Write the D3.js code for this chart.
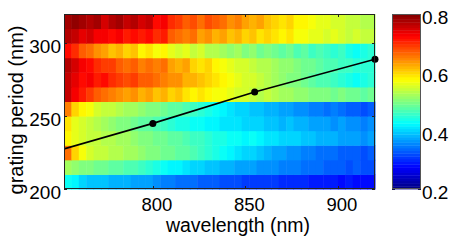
<!DOCTYPE html>
<html>
<head>
<meta charset="utf-8">
<script src="https://cdn.jsdelivr.net/npm/d3@7"></script>
<style>
    body { margin: 0; background: #fff; }
    text { font-family: "Liberation Sans", Arial, sans-serif; fill: #000; }
</style>
</head>
<body>
<div class="main"></div>
<script>
// column start wavelengths (nm), each column 4 nm wide
var wavelengths = [752, 756, 760, 764, 768, 772, 776, 780, 784, 788, 792, 796, 800, 804,
    808, 812, 816, 820, 824, 828, 832, 836, 840, 844, 848, 852, 856, 860,
    864, 868, 872, 876, 880, 884, 888, 892, 896, 900, 904, 908, 912, 916];
// row start grating periods (nm), each row 10 nm tall
var periods = [200, 210, 220, 230, 240, 250, 260, 270, 280, 290, 300, 310];

// values per row, bottom (200 nm) to top (310 nm)
var values = [
    [0.43, 0.42, 0.40, 0.39, 0.39, 0.39, 0.38, 0.38, 0.38, 0.37, 0.37, 0.37, 0.36, 0.35,
     0.35, 0.34, 0.34, 0.34, 0.33, 0.33, 0.33, 0.32, 0.32, 0.32, 0.31, 0.31, 0.31, 0.31,
     0.31, 0.30, 0.30, 0.30, 0.30, 0.29, 0.29, 0.29, 0.29, 0.28, 0.29, 0.28, 0.28, 0.28],
    [0.52, 0.51, 0.50, 0.50, 0.49, 0.49, 0.48, 0.48, 0.47, 0.47, 0.46, 0.45, 0.44, 0.43,
     0.42, 0.42, 0.41, 0.40, 0.40, 0.39, 0.39, 0.38, 0.38, 0.37, 0.37, 0.37, 0.36, 0.36,
     0.36, 0.35, 0.35, 0.35, 0.34, 0.34, 0.34, 0.33, 0.33, 0.33, 0.32, 0.33, 0.32, 0.32],
    [0.66, 0.60, 0.57, 0.55, 0.54, 0.54, 0.53, 0.53, 0.52, 0.52, 0.51, 0.50, 0.50, 0.49,
     0.49, 0.48, 0.48, 0.47, 0.46, 0.45, 0.44, 0.43, 0.42, 0.41, 0.40, 0.40, 0.39, 0.38,
     0.37, 0.37, 0.36, 0.36, 0.35, 0.35, 0.34, 0.34, 0.34, 0.33, 0.33, 0.33, 0.32, 0.33],
    [0.58, 0.56, 0.55, 0.54, 0.54, 0.53, 0.53, 0.52, 0.52, 0.51, 0.50, 0.50, 0.49, 0.49,
     0.48, 0.48, 0.47, 0.46, 0.46, 0.45, 0.44, 0.44, 0.43, 0.43, 0.42, 0.43, 0.42, 0.41,
     0.41, 0.40, 0.40, 0.40, 0.39, 0.39, 0.38, 0.38, 0.38, 0.37, 0.37, 0.37, 0.36, 0.37],
    [0.59, 0.56, 0.55, 0.54, 0.53, 0.52, 0.51, 0.50, 0.50, 0.49, 0.48, 0.48, 0.47, 0.46,
     0.45, 0.44, 0.44, 0.43, 0.43, 0.42, 0.42, 0.41, 0.41, 0.41, 0.40, 0.40, 0.40, 0.39,
     0.39, 0.38, 0.39, 0.38, 0.38, 0.37, 0.37, 0.37, 0.36, 0.37, 0.36, 0.36, 0.35, 0.36],
    [0.65, 0.60, 0.58, 0.57, 0.55, 0.54, 0.54, 0.53, 0.52, 0.52, 0.51, 0.50, 0.50, 0.49,
     0.48, 0.48, 0.47, 0.46, 0.45, 0.44, 0.43, 0.42, 0.41, 0.40, 0.40, 0.39, 0.39, 0.38,
     0.38, 0.37, 0.37, 0.36, 0.36, 0.35, 0.35, 0.34, 0.35, 0.34, 0.33, 0.33, 0.32, 0.33],
    [0.76, 0.73, 0.71, 0.69, 0.67, 0.66, 0.65, 0.64, 0.63, 0.64, 0.62, 0.63, 0.61, 0.62,
     0.60, 0.61, 0.59, 0.58, 0.59, 0.58, 0.57, 0.57, 0.56, 0.55, 0.55, 0.54, 0.53, 0.54,
     0.53, 0.52, 0.52, 0.51, 0.51, 0.50, 0.50, 0.50, 0.49, 0.50, 0.49, 0.49, 0.48, 0.49],
    [0.76, 0.74, 0.72, 0.73, 0.71, 0.72, 0.70, 0.69, 0.68, 0.69, 0.67, 0.67, 0.66, 0.65,
     0.64, 0.64, 0.62, 0.62, 0.61, 0.60, 0.59, 0.58, 0.57, 0.56, 0.55, 0.55, 0.54, 0.53,
     0.52, 0.51, 0.50, 0.50, 0.49, 0.48, 0.47, 0.47, 0.46, 0.45, 0.44, 0.43, 0.44, 0.45],
    [0.77, 0.75, 0.73, 0.72, 0.70, 0.69, 0.69, 0.67, 0.66, 0.67, 0.65, 0.66, 0.65, 0.66,
     0.63, 0.62, 0.63, 0.60, 0.59, 0.60, 0.58, 0.57, 0.56, 0.55, 0.55, 0.54, 0.53, 0.53,
     0.52, 0.51, 0.51, 0.50, 0.49, 0.49, 0.48, 0.47, 0.47, 0.46, 0.46, 0.45, 0.45, 0.45],
    [0.72, 0.70, 0.67, 0.66, 0.64, 0.63, 0.61, 0.62, 0.60, 0.61, 0.58, 0.59, 0.57, 0.58,
     0.56, 0.55, 0.56, 0.54, 0.55, 0.53, 0.53, 0.52, 0.51, 0.52, 0.50, 0.51, 0.49, 0.50,
     0.49, 0.48, 0.49, 0.47, 0.48, 0.46, 0.47, 0.46, 0.45, 0.46, 0.44, 0.43, 0.44, 0.45],
    [0.77, 0.76, 0.74, 0.75, 0.73, 0.73, 0.72, 0.73, 0.71, 0.72, 0.71, 0.72, 0.70, 0.71,
     0.67, 0.66, 0.65, 0.66, 0.63, 0.64, 0.62, 0.63, 0.61, 0.62, 0.60, 0.61, 0.59, 0.60,
     0.59, 0.58, 0.59, 0.57, 0.57, 0.56, 0.56, 0.55, 0.56, 0.55, 0.54, 0.55, 0.54, 0.54],
    [0.78, 0.79, 0.78, 0.77, 0.78, 0.75, 0.77, 0.78, 0.76, 0.77, 0.75, 0.76, 0.72, 0.73,
     0.70, 0.69, 0.67, 0.68, 0.66, 0.68, 0.67, 0.66, 0.64, 0.65, 0.63, 0.62, 0.63, 0.61,
     0.60, 0.59, 0.60, 0.58, 0.58, 0.57, 0.56, 0.56, 0.55, 0.55, 0.54, 0.54, 0.53, 0.53]
];

// black line with markers
var lineWl = [752, 800, 855, 920];
var linePeriod = [227.5, 245, 266.5, 289];
var markerIdx = [1, 2, 3];

var xTicks = [800, 850, 900];
var yTicks = [200, 250, 300];
var cTicks = [0.2, 0.4, 0.6, 0.8];

var options = {
    'width': 457,
    'height': 247,
    'left': 64,
    'right': 375,
    'top': 14,
    'bottom': 189
};

var svg = d3.select('.main')
    .append('svg')
    .attr('width', options.width)
    .attr('height', options.height);

var x = d3.scaleLinear().domain([752, 920]).range([options.left, options.right]);
var y = d3.scaleLinear().domain([200, 320]).range([options.bottom, options.top]);

// jet colormap
var color = d3.scaleLinear()
    .domain([0.2, 0.275, 0.425, 0.575, 0.725, 0.8])
    .range(['#000080', '#0000ff', '#00ffff', '#ffff00', '#ff0000', '#800000'])
    .clamp(true);

svg.append('clipPath')
    .attr('id', 'plot-clip')
    .append('rect')
    .attr('x', options.left)
    .attr('y', options.top)
    .attr('width', options.right - options.left)
    .attr('height', options.bottom - options.top);

var cells = [];
periods.forEach(function (p, r) {
    wavelengths.forEach(function (w, c) {
        cells.push({ w: w, p: p, v: values[r][c] });
    });
});

svg.append('g')
    .selectAll('rect')
    .data(cells)
    .enter()
    .append('rect')
    .attr('x', function (d) { return x(d.w); })
    .attr('y', function (d) { return y(d.p + 10); })
    .attr('width', function (d) { return x(d.w + 4) - x(d.w) + 0.5; })
    .attr('height', function (d) { return y(d.p) - y(d.p + 10) + 0.5; })
    .style('fill', function (d) { return color(d.v); });

// line and markers
var linePts = lineWl.map(function (w, i) { return [w, linePeriod[i]]; });

svg.append('path')
    .attr('d', d3.line()
        .x(function (d) { return x(d[0]); })
        .y(function (d) { return y(d[1]); })(linePts))
    .attr('clip-path', 'url(#plot-clip)')
    .style('fill', 'none')
    .style('stroke', '#000')
    .style('stroke-width', '1.6px');

svg.append('g')
    .selectAll('circle')
    .data(markerIdx)
    .enter()
    .append('circle')
    .attr('cx', function (i) { return x(lineWl[i]); })
    .attr('cy', function (i) { return y(linePeriod[i]); })
    .attr('r', 3.5)
    .style('fill', '#000');

// axes box and ticks
svg.append('rect')
    .attr('x', options.left + 0.5)
    .attr('y', options.top + 0.5)
    .attr('width', options.right - options.left - 1)
    .attr('height', options.bottom - options.top - 1)
    .style('fill', 'none')
    .style('stroke', '#222')
    .style('stroke-width', '1px');

var ticks = svg.append('g').style('stroke', '#222').style('stroke-width', '1px');

xTicks.forEach(function (t) {
    var px = Math.round(x(t)) + 0.5;
    ticks.append('line').attr('x1', px).attr('x2', px)
        .attr('y1', options.bottom).attr('y2', options.bottom - 3);
    ticks.append('line').attr('x1', px).attr('x2', px)
        .attr('y1', options.top).attr('y2', options.top + 3);
});

yTicks.forEach(function (t) {
    var py = Math.round(y(t)) + 0.5;
    ticks.append('line').attr('x1', options.left).attr('x2', options.left + 3)
        .attr('y1', py).attr('y2', py);
    ticks.append('line').attr('x1', options.right).attr('x2', options.right - 3)
        .attr('y1', py).attr('y2', py);
});

svg.append('g')
    .selectAll('text')
    .data(xTicks)
    .enter()
    .append('text')
    .text(function (d) { return d; })
    .attr('x', function (d) { return x(d) + 4; })
    .attr('y', 210.5)
    .attr('text-anchor', 'middle')
    .style('font-size', '18.5px');

svg.append('g')
    .selectAll('text')
    .data(yTicks)
    .enter()
    .append('text')
    .text(function (d) { return d; })
    .attr('x', 61)
    .attr('y', function (d) { return y(d) + 10; })
    .attr('text-anchor', 'end')
    .style('font-size', '19px');

svg.append('text')
    .text('wavelength (nm)')
    .attr('x', 238)
    .attr('y', 232)
    .attr('text-anchor', 'middle')
    .style('font-size', '19.5px');

svg.append('text')
    .text('grating period (nm)')
    .attr('transform', 'translate(23,110) rotate(-90)')
    .attr('text-anchor', 'middle')
    .style('font-size', '20px');

// colorbar
var cb = { left: 392, right: 421, top: 14, bottom: 189 };
var cy = d3.scaleLinear().domain([0.2, 0.8]).range([cb.bottom, cb.top]);
var bands = d3.range(64).map(function (i) { return 0.2 + i * 0.6 / 64; });

svg.append('g')
    .selectAll('rect')
    .data(bands)
    .enter()
    .append('rect')
    .attr('x', cb.left)
    .attr('y', function (d) { return cy(d + 0.6 / 64); })
    .attr('width', cb.right - cb.left)
    .attr('height', cy(0.2) - cy(0.2 + 0.6 / 64) + 0.4)
    .style('fill', function (d) { return color(d + 0.3 / 64); });

svg.append('rect')
    .attr('x', cb.left + 0.5)
    .attr('y', cb.top + 0.5)
    .attr('width', cb.right - cb.left - 1)
    .attr('height', cb.bottom - cb.top - 1)
    .style('fill', 'none')
    .style('stroke', '#555')
    .style('stroke-width', '1px');

cTicks.forEach(function (t) {
    var py = Math.round(cy(t)) + 0.5;
    ticks.append('line').attr('x1', cb.left).attr('x2', cb.left + 3)
        .attr('y1', py).attr('y2', py);
    ticks.append('line').attr('x1', cb.right).attr('x2', cb.right - 3)
        .attr('y1', py).attr('y2', py);
});

svg.append('g')
    .selectAll('text')
    .data(cTicks)
    .enter()
    .append('text')
    .text(function (d) { return d.toFixed(1); })
    .attr('x', 422)
    .attr('y', function (d) { return cy(d) + 10; })
    .style('font-size', '19px');
</script>
</body>
</html>
